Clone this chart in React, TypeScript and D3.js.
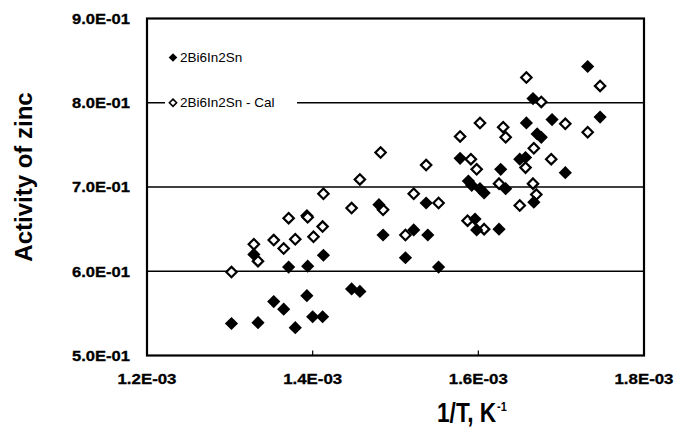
import React from "react";
import * as d3 from "d3";

// 1/T values in units of 1e-3 K^-1
const measuredX = [1.302, 1.334, 1.329, 1.353, 1.365, 1.371, 1.379, 1.393, 1.394, 1.400, 1.412, 1.413, 1.447, 1.457, 1.480, 1.485, 1.512, 1.522, 1.537, 1.539, 1.552, 1.578, 1.588, 1.592, 1.596, 1.598, 1.607, 1.602, 1.625, 1.627, 1.633, 1.650, 1.657, 1.658, 1.666, 1.667, 1.671, 1.676, 1.689, 1.705, 1.732, 1.747];
const measuredY = [0.538, 0.539, 0.620, 0.564, 0.555, 0.605, 0.533, 0.571, 0.606, 0.546, 0.546, 0.619, 0.579, 0.576, 0.679, 0.643, 0.616, 0.649, 0.681, 0.643, 0.605, 0.734, 0.707, 0.702, 0.662, 0.649, 0.693, 0.698, 0.650, 0.721, 0.698, 0.733, 0.735, 0.776, 0.805, 0.682, 0.763, 0.759, 0.780, 0.717, 0.843, 0.783];

const calX = [1.302, 1.329, 1.334, 1.353, 1.365, 1.371, 1.379, 1.393, 1.394, 1.401, 1.412, 1.413, 1.447, 1.457, 1.482, 1.485, 1.512, 1.522, 1.537, 1.552, 1.578, 1.587, 1.591, 1.598, 1.602, 1.607, 1.625, 1.630, 1.633, 1.650, 1.657, 1.658, 1.666, 1.667, 1.670, 1.676, 1.688, 1.705, 1.732, 1.747];
const calY = [0.599, 0.632, 0.612, 0.637, 0.627, 0.663, 0.638, 0.666, 0.664, 0.641, 0.653, 0.692, 0.675, 0.709, 0.741, 0.673, 0.643, 0.692, 0.726, 0.681, 0.760, 0.660, 0.733, 0.721, 0.776, 0.650, 0.704, 0.771, 0.759, 0.678, 0.723, 0.830, 0.704, 0.746, 0.691, 0.801, 0.733, 0.775, 0.765, 0.820];

const xTicks = [1.2, 1.4, 1.6, 1.8];
const xTickLabels = ["1.2E-03", "1.4E-03", "1.6E-03", "1.8E-03"];
const yTicks = [0.5, 0.6, 0.7, 0.8, 0.9];
const yTickLabels = ["5.0E-01", "6.0E-01", "7.0E-01", "8.0E-01", "9.0E-01"];
const gridValues = [0.6, 0.7, 0.8];
const seriesNames = ["2Bi6In2Sn", "2Bi6In2Sn - Cal"];

const W = 682, H = 434;
const L = 147, R = 644, T = 18.5, B = 355.5;

const diamond = (r: number) => `M0,${-r}L${r},0L0,${r}L${-r},0Z`;

export default function App() {
  const x = d3.scaleLinear().domain([1.2, 1.8]).range([L, R]);
  const y = d3.scaleLinear().domain([0.5, 0.9]).range([B, T]);
  const font = "'Liberation Sans', Arial, sans-serif";

  return (
    <svg width={W} height={H} style={{ position: "absolute", left: 0, top: 0, background: "#fff" }} fontFamily={font}>
      <rect x={0} y={0} width={W} height={H} fill="#fff" />
      {gridValues.map((v) => (
        <line key={v} x1={L} x2={R} y1={y(v)} y2={y(v)} stroke="#000" strokeWidth={1.5} />
      ))}
      {xTicks.slice(1, -1).map((v) => (
        <line key={v} x1={x(v)} x2={x(v)} y1={B} y2={B - 5} stroke="#000" strokeWidth={1.2} />
      ))}
      {/* legend box */}
      <rect x={165} y={44} width={132} height={70} fill="#fff" />
      {/* legend */}
      <path d={diamond(4.3)} transform={`translate(173,${57.5})`} fill="#000" />
      <text x={180} y={57.5} dominantBaseline="central" fontSize={13.5} fill="#000">{seriesNames[0]}</text>
      <path d={diamond(3.6)} transform={`translate(173,${y(0.8)})`} fill="#fff" stroke="#000" strokeWidth={1.6} />
      <text x={180} y={y(0.8)} dominantBaseline="central" fontSize={13.5} fill="#000">{seriesNames[1]}</text>
      {/* data */}
      {calX.map((v, i) => (
        <path key={"c" + i} d={diamond(5.2)} transform={`translate(${x(v)},${y(calY[i])})`} fill="#fff" stroke="#000" strokeWidth={2.2} />
      ))}
      {measuredX.map((v, i) => (
        <path key={"m" + i} d={diamond(6.6)} transform={`translate(${x(v)},${y(measuredY[i])})`} fill="#000" />
      ))}
      {/* frame */}
      <rect x={L} y={T} width={R - L} height={B - T} fill="none" stroke="#000" strokeWidth={2.2} />
      {/* y tick labels */}
      {yTicks.map((v, i) => (
        <text key={v} x={130} y={y(v)} dy="0.35em" textAnchor="end" fontSize={15} fontWeight="bold" stroke="#000" strokeWidth={0.3} textLength={58} lengthAdjust="spacingAndGlyphs" fill="#000">
          {yTickLabels[i]}
        </text>
      ))}
      {/* x tick labels */}
      {xTicks.map((v, i) => (
        <text key={v} x={x(v)} y={379} dy="0.35em" textAnchor="middle" fontSize={15} fontWeight="bold" stroke="#000" strokeWidth={0.3} textLength={59} lengthAdjust="spacingAndGlyphs" fill="#000">
          {xTickLabels[i]}
        </text>
      ))}
      {/* axis titles */}
      <text transform="translate(437,421.5) scale(0.84,1)" fontSize={27} fontWeight="bold" fill="#000">
        1/T, K<tspan fontSize={13} dx={1} dy={-11}>-1</tspan>
      </text>
      <text transform="translate(32,177) rotate(-90)" textAnchor="middle" fontSize={24} fontWeight="bold" fill="#000">Activity of zinc</text>
    </svg>
  );
}
